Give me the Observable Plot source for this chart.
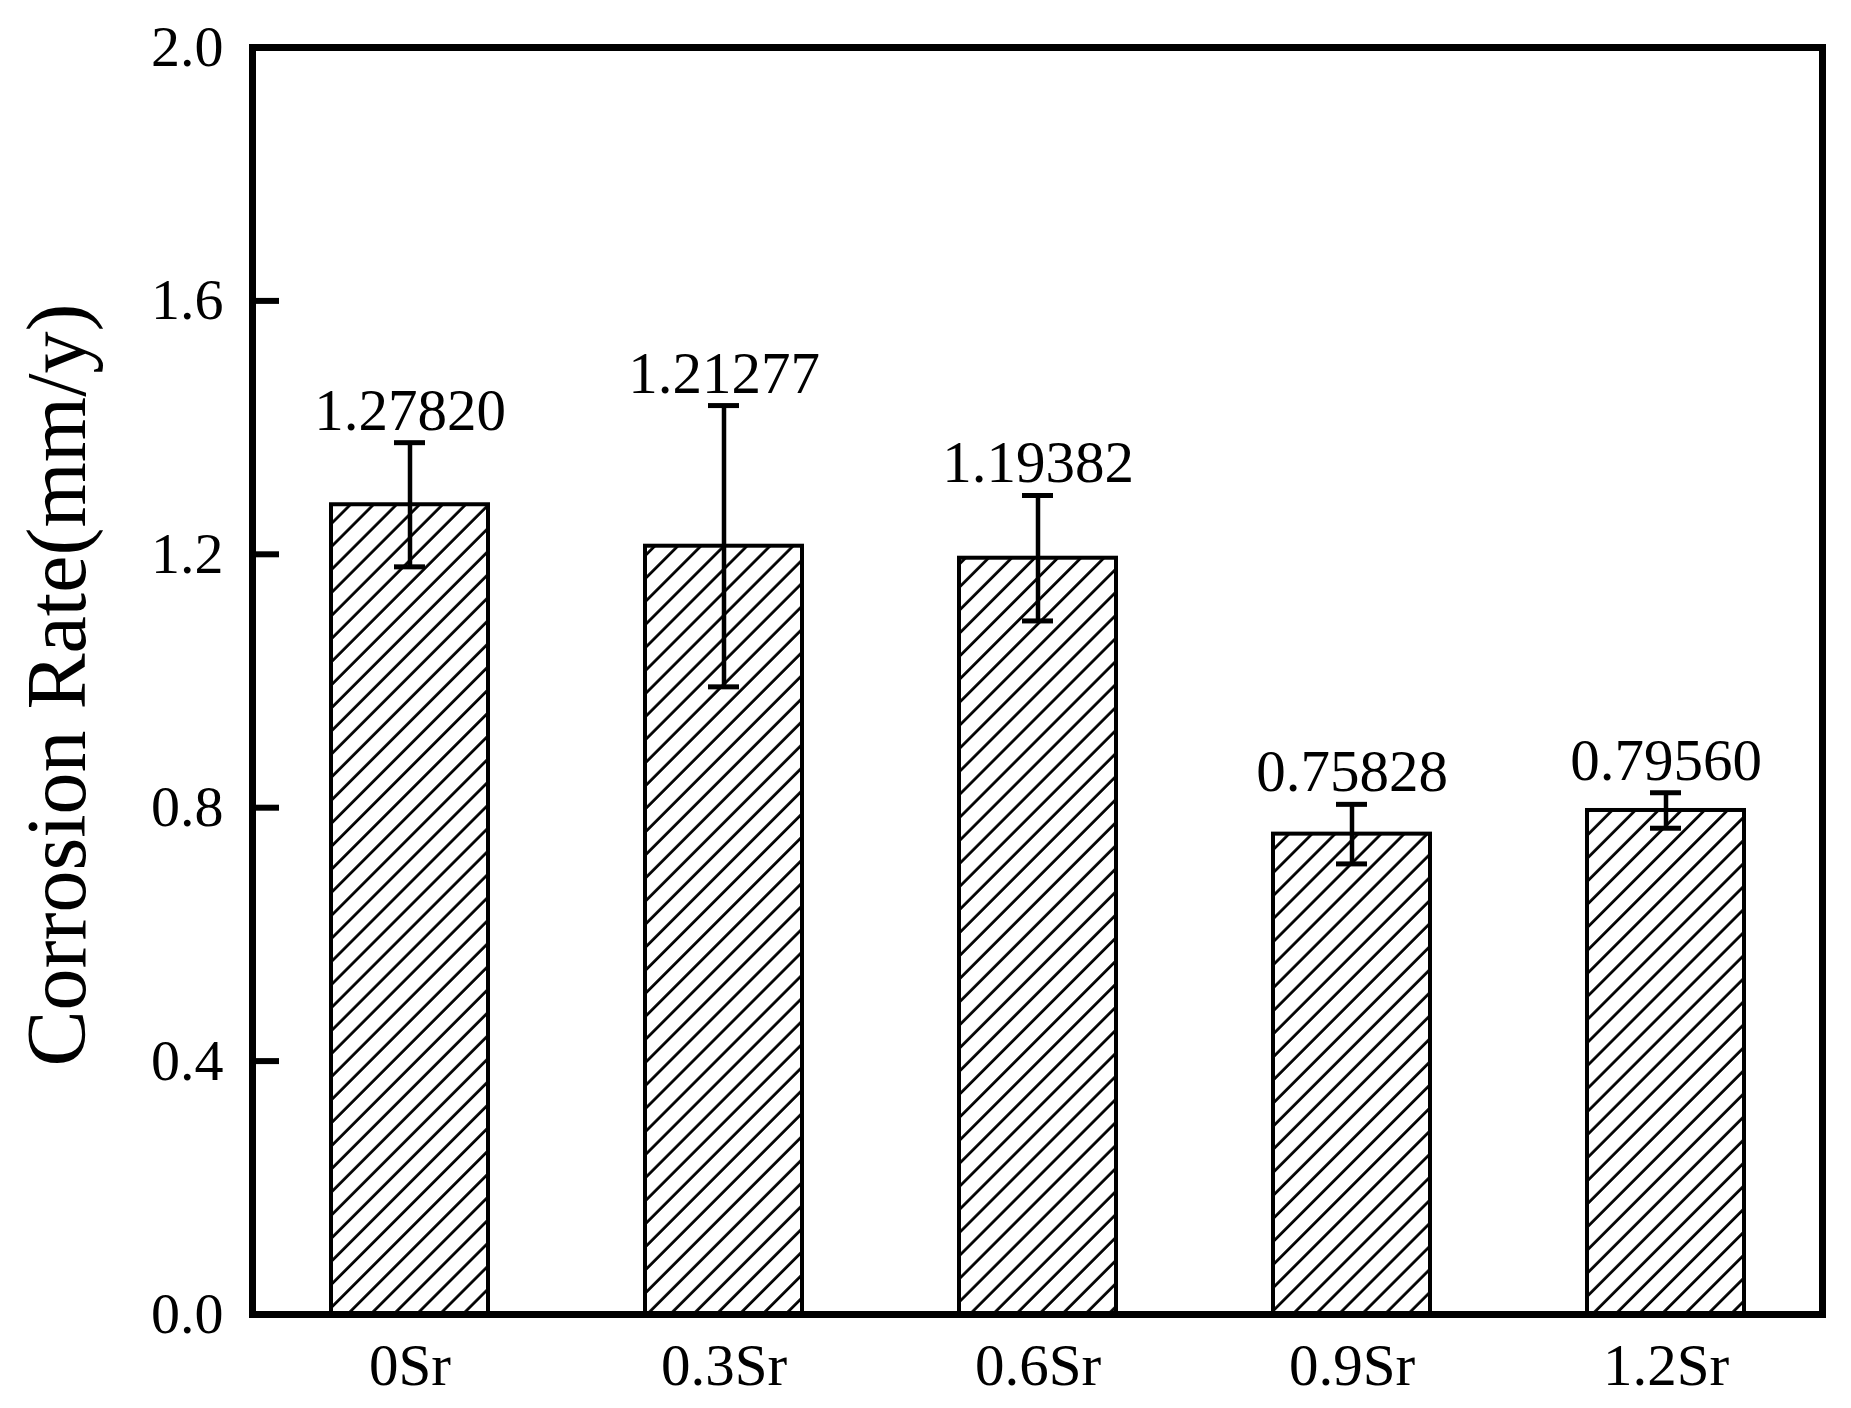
<!DOCTYPE html>
<html>
<head>
<meta charset="utf-8">
<script src="https://cdn.jsdelivr.net/npm/d3@7"></script>
<script src="https://cdn.jsdelivr.net/npm/@observablehq/plot@0.6"></script>
<style>
  html, body { margin: 0; padding: 0; background: white; overflow: hidden; }
  #chart svg { display: block; }
</style>
</head>
<body>
<div id="chart"></div>
<script>
const categories = ["0Sr", "0.3Sr", "0.6Sr", "0.9Sr", "1.2Sr"];
const rates = [1.27820, 1.21277, 1.19382, 0.75828, 0.79560];
const errors = [0.098, 0.222, 0.099, 0.047, 0.028];
const valueLabels = ["1.27820", "1.21277", "1.19382", "0.75828", "0.79560"];
const yTicks = [0, 0.4, 0.8, 1.2, 1.6, 2.0];
const yTitle = "Corrosion Rate(mm/y)";

const data = categories.map((c, i) => ({
  cat: c, rate: rates[i], lo: rates[i] - errors[i], hi: rates[i] + errors[i], label: valueLabels[i]
}));

const font = "'Liberation Serif', 'Times New Roman', serif";
const W = 1851, ML = 252, MR = 29;

const svg = Plot.plot({
  width: W,
  height: 1408,
  marginLeft: ML,
  marginRight: MR,
  marginTop: 47,
  marginBottom: 94,
  style: { fontFamily: font, background: "white", color: "black" },
  x: { domain: categories, paddingInner: 0.5, paddingOuter: 0.25, label: null },
  y: { domain: [0, 2], label: null },
  marks: [
    Plot.barY(data, { x: "cat", y: "rate", fill: "url(#hatch)", stroke: "black", strokeWidth: 4 }),
    Plot.ruleX(data, { x: "cat", y1: "lo", y2: "hi", stroke: "black", strokeWidth: 4.5 }),
    Plot.tickY(data, { x: "cat", y: "hi", stroke: "black", strokeWidth: 5, insetLeft: 63, insetRight: 63 }),
    Plot.tickY(data, { x: "cat", y: "lo", stroke: "black", strokeWidth: 5, insetLeft: 63, insetRight: 63 }),
    Plot.text(data, { x: "cat", y: "hi", text: "label", dy: -13, lineAnchor: "bottom", fontSize: 59, fill: "black" }),
    Plot.axisY({ ticks: yTicks, tickFormat: d3.format(".1f"), tickSize: 0, tickPadding: 29, fontSize: 58, label: null }),
    Plot.axisX({ tickSize: 0, tickPadding: 29, fontSize: 59, label: null }),
    Plot.text([yTitle], { frameAnchor: "left", rotate: -90, dx: -168, dy: 4, lineAnchor: "bottom", textAnchor: "middle", fontSize: 84, fill: "black" }),
    Plot.frame({ stroke: "black", strokeWidth: 7 }),
    // inward tick marks on the left edge
    Plot.tickY(yTicks, { y: d => d, stroke: "black", strokeWidth: 6, insetRight: (W - ML - MR) - 27 })
  ]
});

const defs = d3.select(svg).insert("defs", ":first-child");
const pat = defs.append("pattern")
  .attr("id", "hatch")
  .attr("patternUnits", "userSpaceOnUse")
  .attr("width", 16.3)
  .attr("height", 16.3)
  .attr("patternTransform", "rotate(45)");
pat.append("rect").attr("width", 16.3).attr("height", 16.3).attr("fill", "white");
pat.append("line")
  .attr("x1", 1.5).attr("y1", -1).attr("x2", 1.5).attr("y2", 18)
  .attr("stroke", "black").attr("stroke-width", 2.8);

document.getElementById("chart").appendChild(svg);
</script>
</body>
</html>
